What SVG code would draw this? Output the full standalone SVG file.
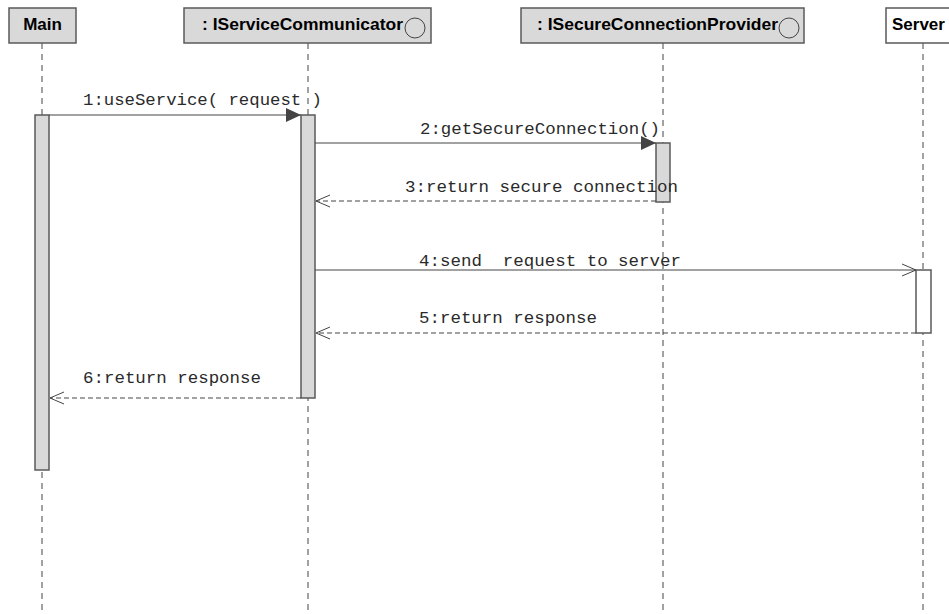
<svg xmlns="http://www.w3.org/2000/svg" width="949" height="614" viewBox="0 0 949 614">
  <style>
    .head { fill: #d9d9d9; stroke: #5a5a5a; stroke-width: 1.5; }
    .head-white { fill: #ffffff; stroke: #5a5a5a; stroke-width: 1.5; }
    .htext { font-family: "Liberation Sans", Arial, sans-serif; font-weight: bold; font-size: 17px; fill: #000; }
    .life { stroke: #444; stroke-width: 1; stroke-dasharray: 6 5; fill: none; }
    .act { fill: #d9d9d9; stroke: #5a5a5a; stroke-width: 1.5; }
    .act-white { fill: #ffffff; stroke: #5a5a5a; stroke-width: 1.5; }
    .msg { stroke: #444; stroke-width: 1; fill: none; }
    .ret { stroke: #444; stroke-width: 1; fill: none; stroke-dasharray: 5 3; }
    .mtext { font-family: "Liberation Mono", "Courier New", monospace; font-size: 17px; fill: #2a2a2a; white-space: pre; }
    .iface { fill: none; stroke: #444; stroke-width: 1; }
  </style>
  <defs>
    <marker id="filled" markerWidth="16" markerHeight="14" refX="15" refY="7" orient="auto" markerUnits="userSpaceOnUse">
      <path d="M0,0 L15,7 L0,14 Z" fill="#444"/>
    </marker>
    <marker id="open" markerWidth="16" markerHeight="14" refX="14" refY="7" orient="auto" markerUnits="userSpaceOnUse">
      <path d="M0,1 L14,7 L0,13" fill="none" stroke="#444" stroke-width="1"/>
    </marker>
  </defs>

  <rect width="949" height="614" fill="#ffffff"/>

  <!-- lifelines -->
  <g id="lifelines">
    <line class="life" x1="42" y1="43" x2="42" y2="614"/>
    <line class="life" x1="308" y1="43" x2="308" y2="614"/>
    <line class="life" x1="663" y1="43" x2="663" y2="614"/>
    <line class="life" x1="923" y1="43" x2="923" y2="614"/>
  </g>

  <!-- participants -->
  <g id="main">
    <rect class="head" x="9" y="8" width="67" height="35"/>
    <text class="htext" x="42.5" y="30" text-anchor="middle">Main</text>
    <rect class="act" x="35" y="115" width="14" height="355"/>
  </g>
  <g id="serviceCommunicator">
    <rect class="head" x="184" y="8" width="247" height="35"/>
    <text class="htext" x="202" y="30" textLength="201" lengthAdjust="spacingAndGlyphs">: IServiceCommunicator</text>
    <circle class="iface" cx="415" cy="28" r="10"/>
    <rect class="act" x="301" y="115" width="14" height="283"/>
  </g>
  <g id="secureConnectionProvider">
    <rect class="head" x="521" y="8" width="283" height="35"/>
    <text class="htext" x="537" y="30" textLength="241" lengthAdjust="spacingAndGlyphs">: ISecureConnectionProvider</text>
    <circle class="iface" cx="789" cy="28" r="10"/>
    <rect class="act" x="656" y="143" width="14" height="59"/>
  </g>
  <g id="server">
    <rect class="head-white" x="886" y="8" width="70" height="35"/>
    <text class="htext" x="892" y="30">Server</text>
    <rect class="act-white" x="916" y="270" width="15" height="63"/>
  </g>

  <!-- messages -->
  <g id="connectors">
    <line class="msg" x1="49" y1="115" x2="301" y2="115" marker-end="url(#filled)"/>
    <text class="mtext" x="83" y="105" textLength="239" lengthAdjust="spacingAndGlyphs">1:useService( request )</text>

    <line class="msg" x1="315" y1="143" x2="656" y2="143" marker-end="url(#filled)"/>
    <text class="mtext" x="420" y="134" textLength="240" lengthAdjust="spacingAndGlyphs">2:getSecureConnection()</text>

    <line class="ret" x1="656" y1="201" x2="316" y2="201" marker-end="url(#open)"/>
    <text class="mtext" x="405" y="192" textLength="273" lengthAdjust="spacingAndGlyphs">3:return secure connection</text>

    <line class="msg" x1="315" y1="270" x2="916" y2="270" marker-end="url(#open)"/>
    <text class="mtext" x="419" y="266" textLength="262" lengthAdjust="spacingAndGlyphs">4:send  request to server</text>

    <line class="ret" x1="916" y1="333" x2="316" y2="333" marker-end="url(#open)"/>
    <text class="mtext" x="419" y="323" textLength="178" lengthAdjust="spacingAndGlyphs">5:return response</text>

    <line class="ret" x1="301" y1="398" x2="50" y2="398" marker-end="url(#open)"/>
    <text class="mtext" x="83" y="383" textLength="178" lengthAdjust="spacingAndGlyphs">6:return response</text>
  </g>
</svg>
